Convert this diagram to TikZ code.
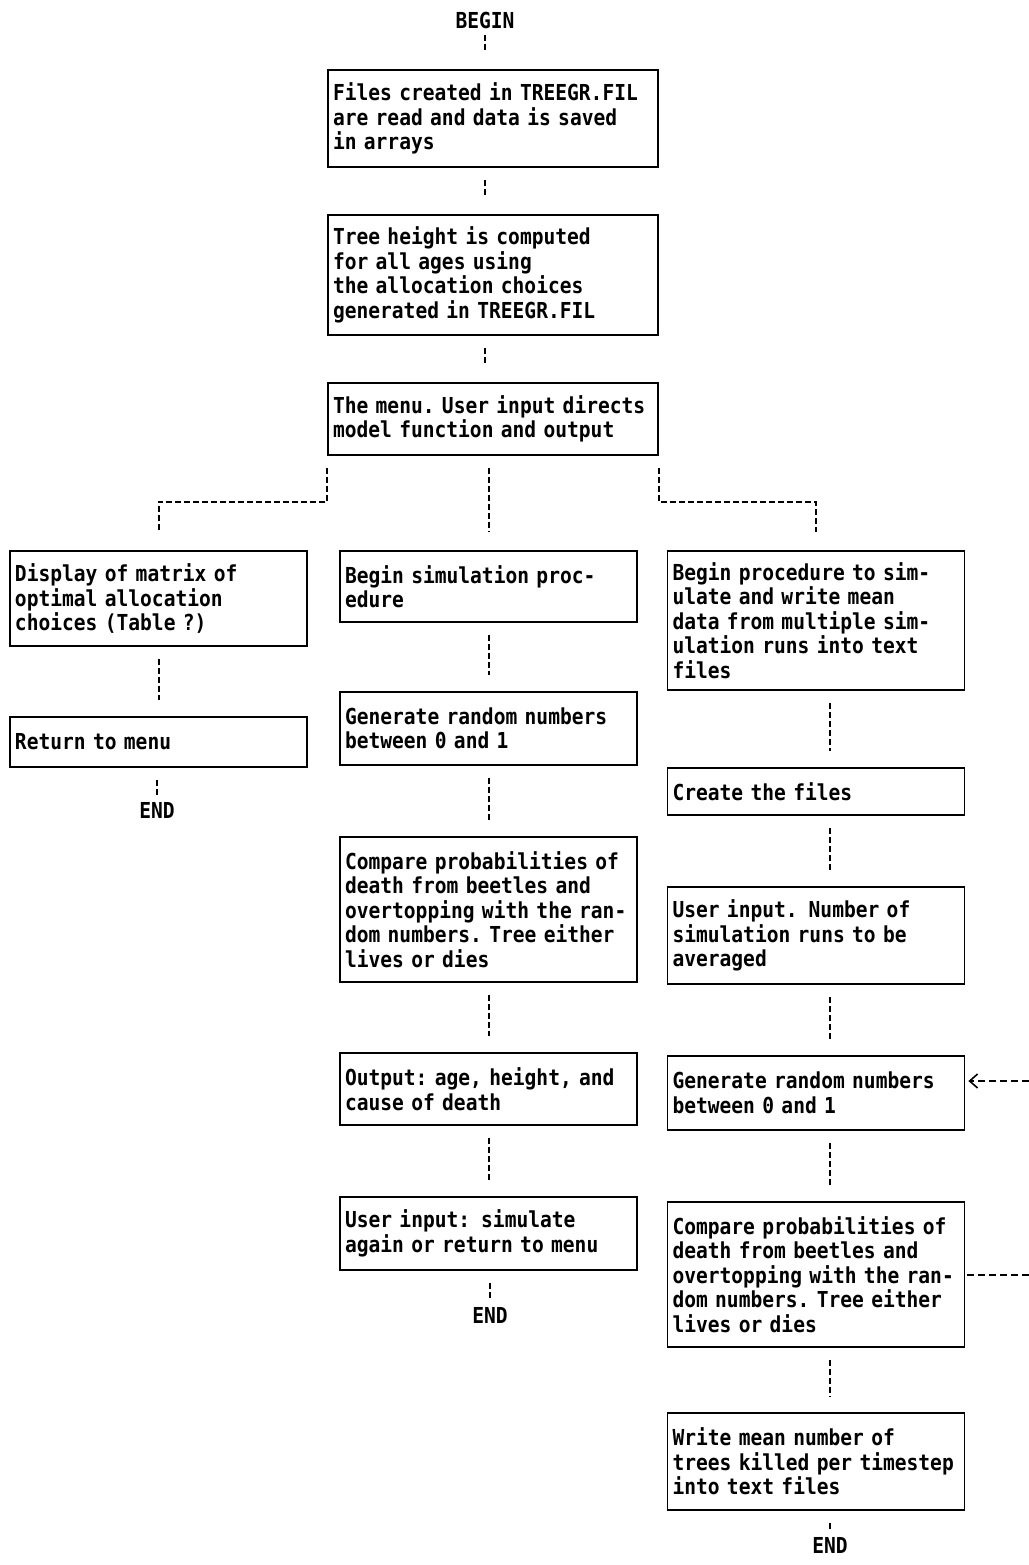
\documentclass[tikz,border=0pt]{standalone}
\usepackage{fontspec}
\newfontfamily\dm[FakeStretch=0.89]{DejaVu Sans Mono}
\usetikzlibrary{arrows.meta}
\begin{document}
\begin{tikzpicture}[x=0.5pt,y=-0.5pt,
  txt/.style={font=\dm\bfseries\fontsize{11}{12.25}\selectfont},
  box/.style={txt, draw, line width=0.9pt, inner xsep=2.5pt, inner ysep=0pt, align=left, anchor=center},
  wbox/.style={box, text width=160pt},
  nbox/.style={box, text width=143.5pt},
  term/.style={txt, inner sep=1pt},
  conn/.style={line width=1pt, dash pattern=on 3pt off 1.5pt, shorten <=6pt, shorten >=8pt},
  hconn/.style={line width=1pt, dash pattern=on 3.5pt off 2pt},
]
\useasboundingbox (0,0) rectangle (1029,1565);

% terminals
\node[term] (begin) at (485,20) {BEGIN};
\node[term] (endL) at (157,810) {END};
\node[term] (endM) at (490,1315) {END};
\node[term] (endR) at (830,1545) {END};

% top column
\node[wbox, minimum height=48.5pt] (b1) at (493,118.5) {Files~created~in~TREEGR.FIL\\are read and data is saved\\in arrays};
\node[wbox, minimum height=60pt] (b2) at (493,275) {Tree height is computed\\for all ages using\\the allocation choices\\generated in TREEGR.FIL};
\node[wbox, minimum height=36pt] (menu) at (493,419) {The~menu.~User~input~directs\\model function and output};

% left column
\node[nbox, minimum height=47.5pt] (L1) at (158.5,598.5) {Display of matrix of\\optimal allocation\\choices (Table ?)};
\node[nbox, minimum height=25pt] (L2) at (158.5,742) {Return to menu};

% middle column
\node[nbox, minimum height=35.5pt] (M1) at (488.5,586.5) {Begin simulation proc-\\edure};
\node[nbox, minimum height=36.5pt] (M2) at (488.5,728.5) {Generate random numbers\\between 0 and 1};
\node[nbox, minimum height=72.5pt] (M3) at (488.5,909.5) {Compare~probabilities~of\\death from beetles and\\overtopping~with~the~ran-\\dom~numbers.~Tree~either\\lives or dies};
\node[nbox, minimum height=36pt] (M4) at (488.5,1089) {Output:~age,~height,~and\\cause of death};
\node[nbox, minimum height=36.5pt] (M5) at (488.5,1233.5) {User input: simulate\\again or return to menu};

% right column
\node[nbox, minimum height=69.5pt] (R1) at (816,620.5) {Begin procedure to sim-\\ulate and write mean\\data from multiple sim-\\ulation runs into text\\files};
\node[nbox, minimum height=23.5pt] (R2) at (816,791.5) {Create the files};
\node[nbox, minimum height=48.5pt] (R3) at (816,935.5) {User input. Number of\\simulation runs to be\\averaged};
\node[nbox, minimum height=37pt] (R4) at (816,1093) {Generate random numbers\\between 0 and 1};
\node[nbox, minimum height=72.5pt] (R5) at (816,1274.5) {Compare~probabilities~of\\death from beetles and\\overtopping~with~the~ran-\\dom~numbers.~Tree~either\\lives or dies};
\node[nbox, minimum height=48.5pt] (R6) at (816,1461.5) {Write mean number of\\trees~killed~per~timestep\\into text files};

\coordinate (loopOut) at (1029,1272);
\coordinate (loopIn) at (1029,1081);

% connectors: top
\draw[conn, shorten <=2pt, shorten >=9pt] (begin.south) -- (begin.south |- b1.north);
\draw[conn, shorten >=9pt] (b1.south -| begin) -- (b2.north -| begin);
\draw[conn, shorten >=9pt] (b2.south -| begin) -- (menu.north -| begin);

% split
\draw[conn, shorten >=9pt] (M1.north |- menu.south) -- (M1.north);
\draw[conn, shorten >=9pt] (menu.south west) -- ++(0,46) -| (L1.north);
\draw[conn, shorten >=9pt] (menu.south east) -- ++(0,46) -| (R1.north);

% left column
\draw[conn] (L1.south) -- (L2.north);
\draw[conn, shorten >=2pt] (L2.south -| endL) -- (endL.north);

% middle column
\draw[conn] (M1.south) -- (M2.north);
\draw[conn] (M2.south) -- (M3.north);
\draw[conn] (M3.south) -- (M4.north);
\draw[conn] (M4.south) -- (M5.north);
\draw[conn, shorten >=2pt] (M5.south -| endM) -- (endM.north);

% right column
\draw[conn] ([xshift=7pt]R1.south) -- ([xshift=7pt]R2.north);
\draw[conn] ([xshift=7pt]R2.south) -- ([xshift=7pt]R3.north);
\draw[conn] ([xshift=7pt]R3.south) -- ([xshift=7pt]R4.north);
\draw[conn] ([xshift=7pt]R4.south) -- ([xshift=7pt]R5.north);
\draw[conn] ([xshift=7pt]R5.south) -- ([xshift=7pt]R6.north);
\draw[conn, shorten >=2pt] (R6.south -| endR) -- (endR.north);

% loop back
\draw[hconn, shorten <=1pt] (R5.east) -- (R5.east -| loopOut);
\draw[hconn, -{Straight Barb[length=4pt,width=7pt,line width=0.8pt]}, shorten >=1.5pt] (loopIn) -- (R4.east |- loopIn);
\end{tikzpicture}
\end{document}
